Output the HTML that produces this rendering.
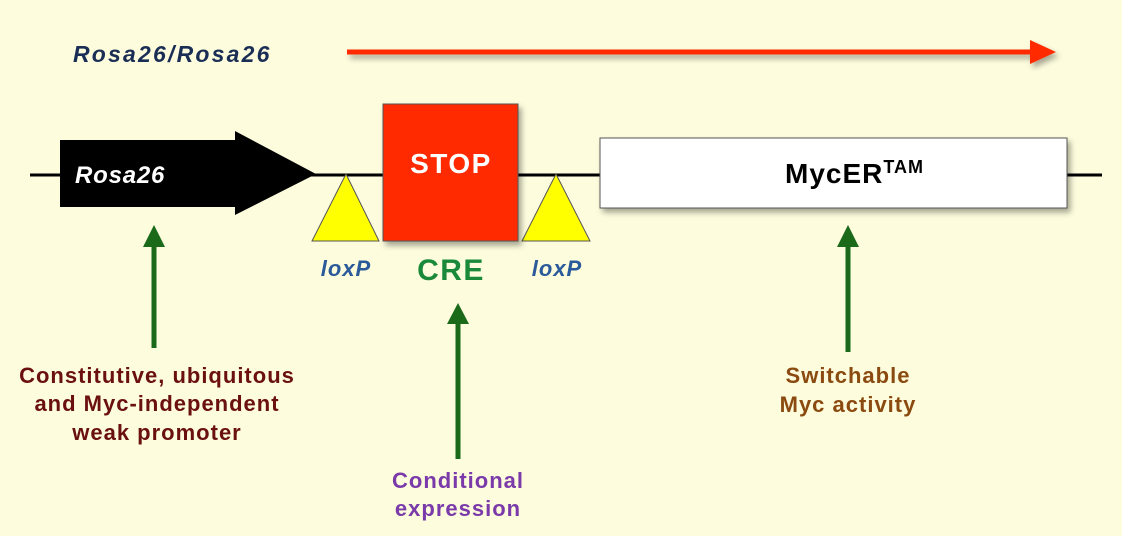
<!DOCTYPE html>
<html><head><meta charset="utf-8"><style>
body{margin:0;background:#fdfcdd;}
svg{display:block;font-family:"Liberation Sans",sans-serif;font-weight:bold;}
</style></head><body>
<svg width="1122" height="536" viewBox="0 0 1122 536">
<defs>
<filter id="sh" x="-10%" y="-10%" width="130%" height="140%"><feDropShadow dx="3" dy="4" stdDeviation="3" flood-color="#000" flood-opacity="0.35"/></filter>
</defs>
<rect width="1122" height="536" fill="#fdfcdd"/>
<text x="73" y="62" font-size="23" font-style="italic" fill="#1a2e55" letter-spacing="2.2">Rosa26/Rosa26</text>
<g filter="url(#sh)">
<line x1="347" y1="52" x2="1032" y2="52" stroke="#ff2a00" stroke-width="5"/>
<path d="M1030,40 L1056,52 L1030,64 Z" fill="#ff2a00"/>
</g>
<line x1="30" y1="175" x2="1102" y2="175" stroke="#000" stroke-width="3"/>
<rect x="60" y="140" width="177" height="67" fill="#000"/>
<path d="M235,131 L316,174 L235,215 Z" fill="#000"/>
<text x="75" y="183" font-size="24" font-style="italic" fill="#fff" letter-spacing="0.8">Rosa26</text>
<path d="M346,174 L379,241 L312,241 Z" fill="#ffff00" stroke="#555" stroke-width="1"/>
<path d="M556,174 L590,241 L522,241 Z" fill="#ffff00" stroke="#555" stroke-width="1"/>
<rect x="383" y="104" width="135" height="137" fill="#ff2a00" stroke="#555" stroke-width="1" filter="url(#sh)"/>
<text x="451" y="173" font-size="28" fill="#fff" text-anchor="middle" letter-spacing="1.5">STOP</text>
<rect x="600" y="138" width="467" height="70" fill="#fff" stroke="#555" stroke-width="1" filter="url(#sh)"/>
<text x="785" y="183" font-size="28" fill="#000" letter-spacing="1">MycER<tspan font-size="18" dy="-10">TAM</tspan></text>
<text x="346" y="276" font-size="22" font-style="italic" fill="#2a5a9a" text-anchor="middle" letter-spacing="1">loxP</text>
<text x="557" y="276" font-size="22" font-style="italic" fill="#2a5a9a" text-anchor="middle" letter-spacing="1">loxP</text>
<text x="451" y="280" font-size="30" fill="#1a8a3a" text-anchor="middle" letter-spacing="1.5">CRE</text>
<g fill="#1a6a1a">
<rect x="151.5" y="244" width="5" height="104"/><path d="M143,247 L154,225 L165,247 Z"/>
</g>
<g fill="#1a6a1a">
<rect x="455.5" y="320" width="5" height="139"/><path d="M447,324 L458,303 L469,324 Z"/>
</g>
<g fill="#1a6a1a">
<rect x="845.5" y="244" width="5" height="108"/><path d="M837,247 L848,225 L859,247 Z"/>
</g>
<g font-size="22" fill="#6b1010" text-anchor="middle" letter-spacing="1">
<text x="157" y="383">Constitutive, ubiquitous</text>
<text x="157" y="411">and Myc-independent</text>
<text x="157" y="440">weak promoter</text>
</g>
<g font-size="22" fill="#7a3aaa" text-anchor="middle" letter-spacing="1">
<text x="458" y="488">Conditional</text>
<text x="458" y="516">expression</text>
</g>
<g font-size="22" fill="#8a4a10" text-anchor="middle" letter-spacing="1">
<text x="848" y="383">Switchable</text>
<text x="848" y="412">Myc activity</text>
</g>
</svg>
</body></html>
